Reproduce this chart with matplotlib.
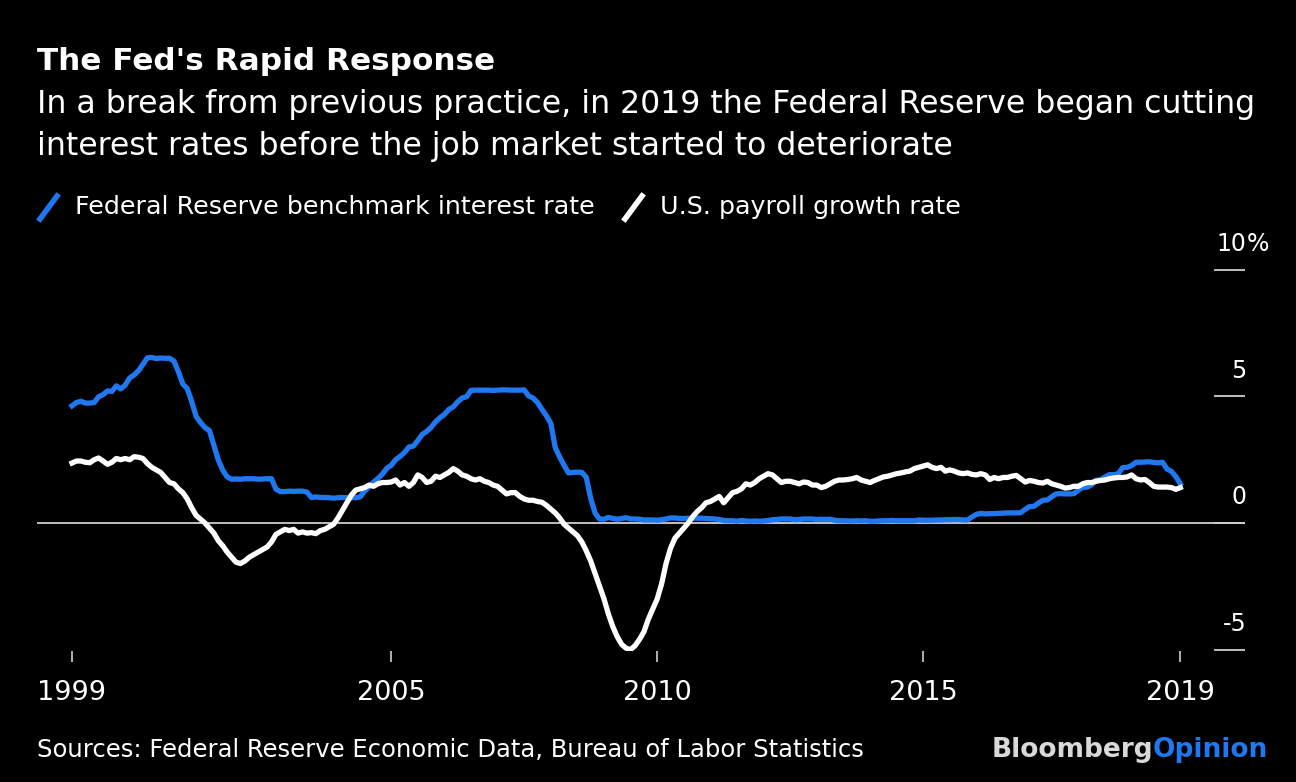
import matplotlib
matplotlib.use("Agg")
import matplotlib.pyplot as plt
from matplotlib.lines import Line2D
import numpy as np

plt.rcParams['font.family'] = ['DejaVu Sans']

# monthly data, Jan 1999 .. Nov 2019
start_year = 1999

# effective federal funds rate, %
fed_funds = [
    4.63, 4.76, 4.81, 4.74, 4.74, 4.76, 4.99, 5.07, 5.22, 5.20, 5.42, 5.30,   # 1999
    5.45, 5.73, 5.85, 6.02, 6.27, 6.53, 6.54, 6.50, 6.52, 6.51, 6.51, 6.40,   # 2000
    5.98, 5.49, 5.31, 4.80, 4.21, 3.97, 3.77, 3.65, 3.07, 2.49, 2.09, 1.82,   # 2001
    1.73, 1.74, 1.73, 1.75, 1.75, 1.75, 1.73, 1.74, 1.75, 1.75, 1.34, 1.24,   # 2002
    1.24, 1.26, 1.25, 1.26, 1.26, 1.22, 1.01, 1.03, 1.01, 1.01, 1.00, 0.98,   # 2003
    1.00, 1.01, 1.00, 1.00, 1.00, 1.03, 1.26, 1.43, 1.61, 1.76, 1.93, 2.16,   # 2004
    2.28, 2.50, 2.63, 2.79, 3.00, 3.04, 3.26, 3.50, 3.62, 3.78, 4.00, 4.16,   # 2005
    4.29, 4.49, 4.59, 4.79, 4.94, 4.99, 5.24, 5.25, 5.25, 5.25, 5.25, 5.24,   # 2006
    5.25, 5.26, 5.26, 5.25, 5.25, 5.25, 5.26, 5.02, 4.94, 4.76, 4.49, 4.24,   # 2007
    3.94, 2.98, 2.61, 2.28, 1.98, 2.00, 2.01, 2.00, 1.81, 0.97, 0.39, 0.16,   # 2008
    0.15, 0.22, 0.18, 0.15, 0.18, 0.21, 0.16, 0.16, 0.15, 0.12, 0.12, 0.12,   # 2009
    0.11, 0.13, 0.16, 0.20, 0.20, 0.18, 0.18, 0.19, 0.19, 0.19, 0.19, 0.18,   # 2010
    0.17, 0.16, 0.14, 0.10, 0.09, 0.09, 0.07, 0.10, 0.08, 0.07, 0.08, 0.07,   # 2011
    0.08, 0.10, 0.13, 0.14, 0.16, 0.16, 0.16, 0.13, 0.14, 0.16, 0.16, 0.16,   # 2012
    0.14, 0.15, 0.14, 0.15, 0.11, 0.09, 0.09, 0.08, 0.08, 0.09, 0.08, 0.09,   # 2013
    0.07, 0.07, 0.08, 0.09, 0.09, 0.10, 0.09, 0.09, 0.09, 0.09, 0.09, 0.12,   # 2014
    0.11, 0.11, 0.11, 0.12, 0.12, 0.13, 0.13, 0.14, 0.14, 0.12, 0.12, 0.24,   # 2015
    0.34, 0.38, 0.36, 0.37, 0.37, 0.38, 0.39, 0.40, 0.40, 0.40, 0.41, 0.54,   # 2016
    0.65, 0.66, 0.79, 0.90, 0.91, 1.04, 1.15, 1.16, 1.15, 1.15, 1.16, 1.30,   # 2017
    1.41, 1.42, 1.51, 1.69, 1.70, 1.82, 1.91, 1.91, 1.95, 2.19, 2.20, 2.27,   # 2018
    2.40, 2.40, 2.41, 2.42, 2.39, 2.38, 2.40, 2.13, 2.04, 1.83, 1.55,         # 2019
]

# nonfarm payrolls, year-over-year growth, %
payrolls = [
    2.37, 2.45, 2.45, 2.40, 2.38, 2.50, 2.57, 2.45, 2.32, 2.40, 2.55, 2.50,
    2.55, 2.50, 2.62, 2.60, 2.55, 2.35, 2.20, 2.10, 2.00, 1.80, 1.60, 1.55,
    1.35, 1.20, 0.95, 0.60, 0.30, 0.15, 0.00, -0.20, -0.40, -0.70, -0.90, -1.15,
    -1.35, -1.55, -1.60, -1.50, -1.35, -1.25, -1.15, -1.05, -0.95, -0.75, -0.45, -0.35,
    -0.25, -0.30, -0.25, -0.40, -0.35, -0.40, -0.38, -0.42, -0.30, -0.25, -0.15, -0.05,
    0.20, 0.50, 0.80, 1.10, 1.30, 1.35, 1.40, 1.50, 1.45, 1.55, 1.60, 1.60,
    1.62, 1.70, 1.50, 1.60, 1.45, 1.60, 1.90, 1.80, 1.60, 1.65, 1.85, 1.80,
    1.90, 2.00, 2.15, 2.05, 1.90, 1.85, 1.75, 1.70, 1.75, 1.65, 1.60, 1.50,
    1.45, 1.30, 1.15, 1.20, 1.20, 1.05, 0.95, 0.90, 0.90, 0.85, 0.82, 0.70,
    0.55, 0.40, 0.20, -0.05, -0.20, -0.35, -0.50, -0.75, -1.10, -1.50, -2.00, -2.50,
    -3.00, -3.60, -4.10, -4.50, -4.80, -4.95, -5.00, -4.85, -4.60, -4.30, -3.80, -3.40,
    -3.00, -2.40, -1.60, -1.00, -0.60, -0.40, -0.20, 0.00, 0.25, 0.45, 0.60, 0.80,
    0.85, 0.95, 1.05, 0.80, 1.00, 1.20, 1.25, 1.35, 1.55, 1.50, 1.60, 1.75,
    1.85, 1.95, 1.90, 1.75, 1.60, 1.65, 1.65, 1.60, 1.55, 1.62, 1.60, 1.50,
    1.50, 1.40, 1.45, 1.55, 1.65, 1.70, 1.70, 1.72, 1.75, 1.80, 1.70, 1.65,
    1.60, 1.68, 1.75, 1.82, 1.85, 1.90, 1.95, 1.98, 2.02, 2.05, 2.15, 2.20,
    2.25, 2.30, 2.20, 2.15, 2.20, 2.05, 2.10, 2.05, 1.98, 1.95, 1.98, 1.92,
    1.90, 1.95, 1.90, 1.72, 1.80, 1.75, 1.80, 1.80, 1.85, 1.88, 1.75, 1.62,
    1.68, 1.65, 1.60, 1.58, 1.65, 1.55, 1.50, 1.45, 1.38, 1.40, 1.45, 1.45,
    1.55, 1.60, 1.60, 1.65, 1.68, 1.70, 1.75, 1.78, 1.80, 1.80, 1.82, 1.90,
    1.75, 1.70, 1.72, 1.60, 1.45, 1.42, 1.42, 1.42, 1.40, 1.33, 1.40,
]

year_ticks = [1999, 2005, 2010, 2015, 2019]
y_ticks = [10, 5, 0, -5]
y_labels = ["10", "5", "0", "-5"]

BLUE = "#1f78f0"
GREY = "#cfcfcf"

dates = start_year + np.arange(len(fed_funds)) / 12.0

fig = plt.figure(figsize=(12.96, 7.82), dpi=100, facecolor="black")
ax = fig.add_axes([37 / 1296, 1 - 650.8 / 782, 1208 / 1296, 393.5 / 782])
ax.set_facecolor("black")

ax.axhline(0, color=GREY, lw=1.3, zorder=1)
ax.plot(dates, payrolls, color="white", lw=3.8, solid_joinstyle="round", zorder=3)
ax.plot(dates, fed_funds, color=BLUE, lw=3.8, solid_joinstyle="round", zorder=2)

ax.set_xlim(start_year - 35 / 53.2, start_year + 1173 / 53.2)
ax.set_ylim(-5.05, 10.5)

for s in ax.spines.values():
    s.set_visible(False)

# x ticks: last one sits on the final data point
xt = [float(y) for y in year_ticks[:-1]] + [dates[-1]]
ax.set_xticks(xt)
ax.set_xticklabels([str(y) for y in year_ticks])
ax.tick_params(axis="x", colors=GREY, length=8, width=1.2, direction="out",
               pad=13, labelsize=19.5, labelcolor="white")
ax.set_yticks([])

# y ticks on the right: short lines with the label above
for v, lab in zip(y_ticks, y_labels):
    ax.axhline(v, xmin=0.975, xmax=1.0, color=GREY, lw=1.3)
    ax.annotate(lab, xy=(1.0015, v), xycoords=("axes fraction", "data"),
                xytext=(0, 10), textcoords="offset points",
                ha="right", va="bottom", color="white", fontsize=17)
    if v == max(y_ticks):
        ax.annotate("%", xy=(1.0015, v), xycoords=("axes fraction", "data"),
                    xytext=(0, 10), textcoords="offset points",
                    ha="left", va="bottom", color="white", fontsize=17)

# titles
fig.text(37 / 1296, 1 - 62 / 782, "The Fed's Rapid Response", color="white",
         fontsize=22.4, fontweight="bold", va="center", ha="left")
fig.text(37 / 1296, 1 - 105 / 782,
         "In a break from previous practice, in 2019 the Federal Reserve began cutting",
         color="white", fontsize=22.7, va="center", ha="left")
fig.text(37 / 1296, 1 - 146 / 782,
         "interest rates before the job market started to deteriorate",
         color="white", fontsize=22.7, va="center", ha="left")

# legend
def legend_item(x0, color, label):
    fig.add_artist(Line2D([x0 / 1296, (x0 + 17) / 1296],
                          [1 - 219 / 782, 1 - 196 / 782],
                          color=color, lw=4, transform=fig.transFigure))
    fig.text((x0 + 35) / 1296, 1 - 207 / 782, label, color="white",
             fontsize=18.3, va="center", ha="left")

legend_item(40, BLUE, "Federal Reserve benchmark interest rate")
legend_item(625, "white", "U.S. payroll growth rate")

# footer
fig.text(37 / 1296, 1 - 750 / 782,
         "Sources: Federal Reserve Economic Data, Bureau of Labor Statistics",
         color="white", fontsize=17.5, va="center", ha="left")
t = fig.text(1268 / 1296, 1 - 750 / 782, "Opinion", color=BLUE,
             fontsize=19, fontweight="bold", va="center", ha="right")
fig.canvas.draw()
bb = t.get_window_extent()
fig.text(bb.x0 / 1296, 1 - 750 / 782, "Bloomberg", color="#d9d9d9",
         fontsize=19, fontweight="bold", va="center", ha="right")

fig.savefig("out.png", dpi=100, facecolor="black")
